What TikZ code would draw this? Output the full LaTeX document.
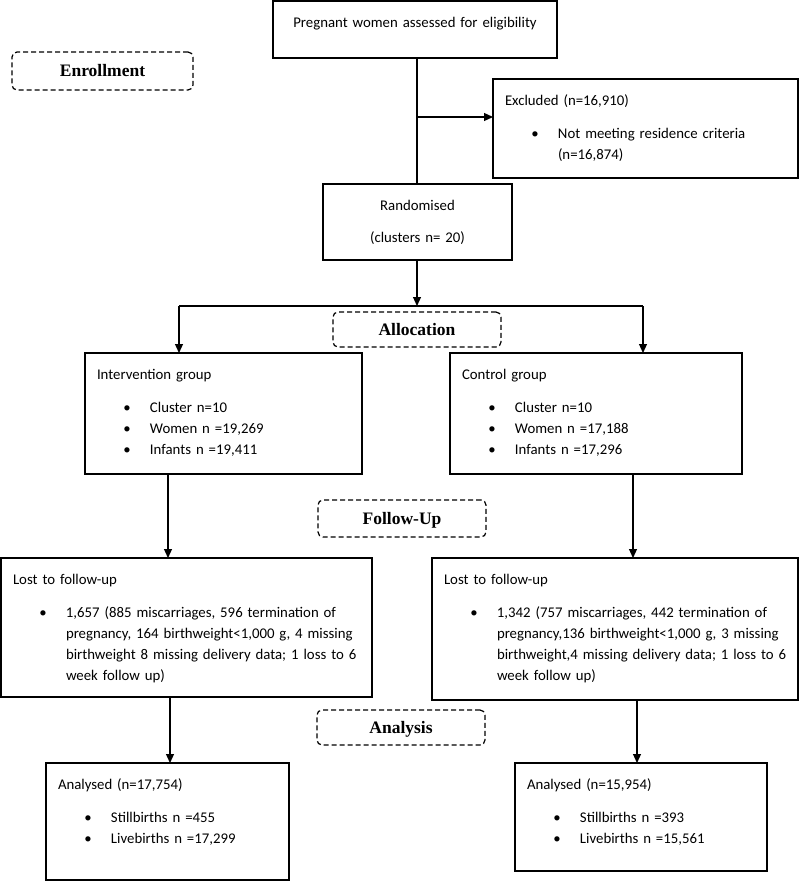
\documentclass[tikz,border=0pt]{standalone}
\usepackage{fontspec}
\setmainfont{Carlito}
\newfontfamily\stagefont{Liberation Serif}
\usepackage{tikz}
\usetikzlibrary{arrows.meta,shapes,calc}
\usetikzlibrary{positioning}
\tikzstyle{box_style0}=[draw, line width=1.2pt, outer sep=0pt, anchor=north west,
inner xsep=12pt, inner ysep=11.3pt, text height=14.7pt, font=\fontsize{14.8}{21}\selectfont]
\tikzstyle{diagram0}=[box_style0, align=left]
\tikzstyle{diagram1}=[box_style0, align=center]
\tikzstyle{stage}=[draw, line width=1.2pt, dash pattern=on 5pt off 3pt, rounded corners=5pt,
anchor=center, minimum width=168pt, minimum height=36pt, text height=11.6pt, text depth=0pt,
font=\stagefont\bfseries\fontsize{17.5}{20}\selectfont]
\tikzstyle{myarrow}=[->, >={Triangle[length=9pt,width=8pt]}, line width=1.2pt]
\tikzstyle{line}=[line width=1.2pt]
% bullet line, and bullet with several lines
\newcommand{\bulitem}{\par\noindent\hspace*{26.3pt}\makebox[26.7pt][l]{\textbullet}}
\newcommand{\bulpar}[1]{\bulitem\parbox[t]{320pt}{\raggedright #1}}

\begin{document}
\begin{tikzpicture}[x=1pt,y=-1pt]
	\useasboundingbox (0,0) rectangle (800,881);

	% enrolment
	\node[diagram1, text width=260pt, text depth=19.7pt] (A) at (273,1) {Pregnant women assessed for eligibility};
	\node[diagram0, text width=281pt, text depth=61.7pt] (B) at (493,79) {Excluded (n=16,910)\\[12pt]
		\bulpar{Not meeting residence criteria\\(n=16,874)}};
	\node[diagram1, text width=165pt, text depth=38.7pt] (C) at (323,184) {Randomised\\[11pt](clusters n= 20)};

	\coordinate (s) at (417,117);
	\draw[line] (A.south -| s) -- (C.north -| s);
	\draw[myarrow] (s) -- (s -| B.west);

	% allocation
	\node[diagram0, text width=253pt, text depth=83.7pt] (D) at (85,353) {Intervention group\\[12pt]
		\bulitem Cluster n=10\bulitem Women n =19,269\bulitem Infants n =19,411};
	\node[diagram0, text width=268pt, text depth=83.7pt, right=88pt of D.north east, anchor=north west] (E) {Control group\\[12pt]
		\bulitem Cluster n=10\bulitem Women n =17,188\bulitem Infants n =17,296};

	\coordinate (fork) at (417,306);
	\coordinate (forkL) at (179,306);
	\coordinate (forkR) at (643,306);
	\draw[myarrow] (C.south -| fork) -- (fork);
	\draw[line] (forkL) -- (forkR);
	\draw[myarrow] (forkL) -- (forkL |- D.north);
	\draw[myarrow] (forkR) -- (forkR |- E.north);

	% follow-up
	\node[diagram0, text width=347pt, text depth=101.7pt] (F) at (1,558) {Lost to follow-up\\[12pt]
		\bulpar{1,657 (885 miscarriages, 596 termination of\\pregnancy, 164 birthweight<1,000 g, 4 missing\\birthweight 8 missing delivery data; 1 loss to 6\\week follow up)}};
	\node[diagram0, text width=342pt, text depth=104.7pt, right=60pt of F.north east, anchor=north west] (G) {Lost to follow-up\\[12pt]
		\bulpar{1,342 (757 miscarriages, 442 termination of\\pregnancy,136 birthweight<1,000 g, 3 missing\\birthweight,4 missing delivery data; 1 loss to 6\\week follow up)}};

	\coordinate (d1) at (168,0);
	\coordinate (e1) at (633,0);
	\draw[myarrow] (D.south -| d1) -- (F.north -| d1);
	\draw[myarrow] (E.south -| e1) -- (G.north -| e1);

	% analysis
	\node[diagram0, text width=219pt, text depth=79.7pt] (H) at (46,763) {Analysed (n=17,754)\\[12pt]
		\bulitem Stillbirths n =455\bulitem Livebirths n =17,299};
	\node[diagram0, text width=228pt, text depth=70.7pt] (I) at (515,763) {Analysed (n=15,954)\\[12pt]
		\bulitem Stillbirths n =393\bulitem Livebirths n =15,561};

	\coordinate (f1) at (170,0);
	\coordinate (g1) at (637,0);
	\draw[myarrow] (F.south -| f1) -- (H.north -| f1);
	\draw[myarrow] (G.south -| g1) -- (I.north -| g1);

	% stage labels
	\node[stage, minimum width=181pt, minimum height=38pt] (L1) at (102.5,71) {Enrollment};
	\node[stage, minimum height=35pt] (L2) at (417,329.5) {Allocation};
	\node[stage, minimum height=37pt] (L3) at (402,518.5) {Follow-Up};
	\node[stage, minimum height=35pt] (L4) at (401,727.5) {Analysis};
\end{tikzpicture}
\end{document}
